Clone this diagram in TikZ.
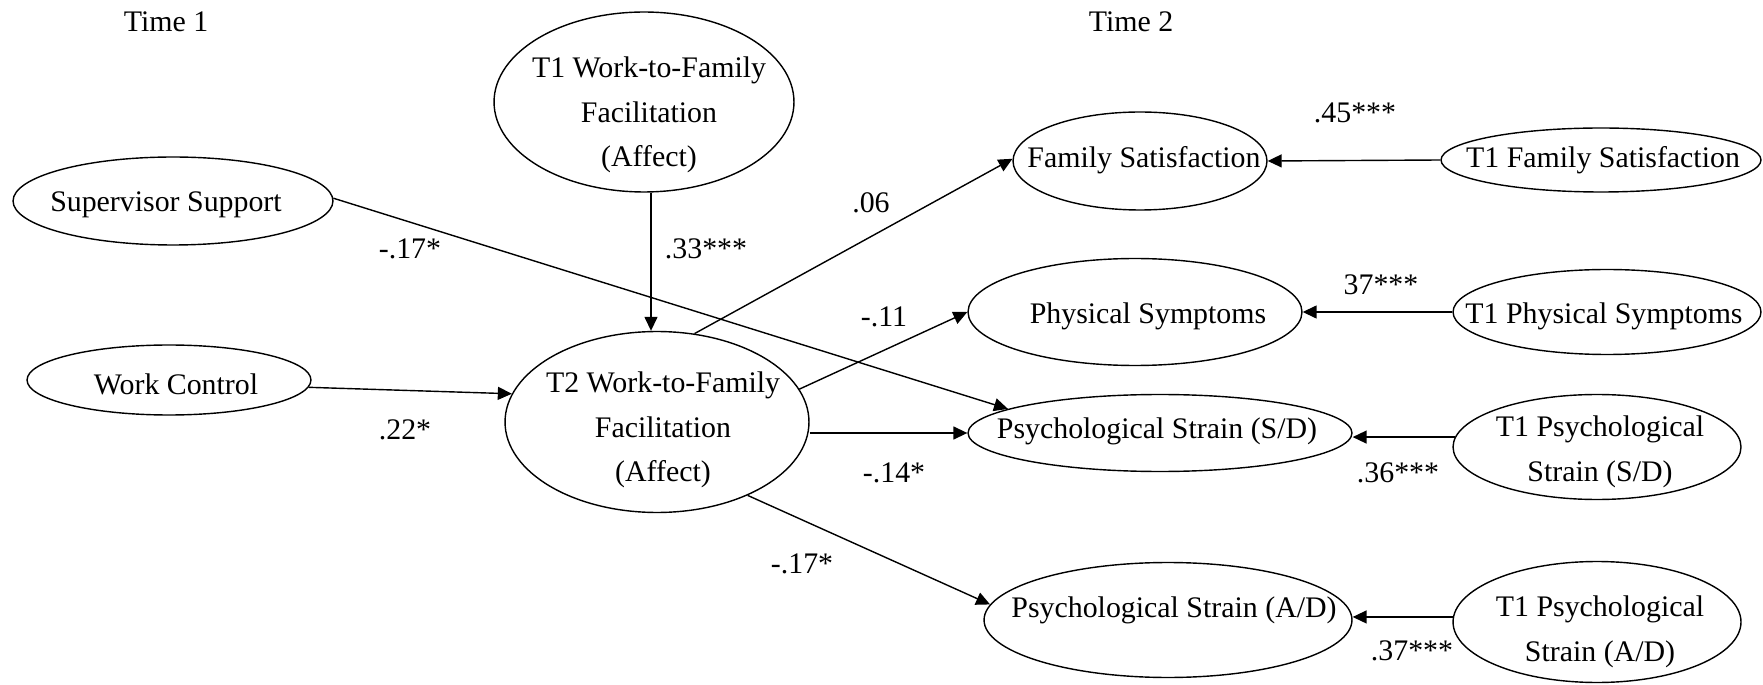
\documentclass[tikz,border=0pt]{standalone}
\usepackage{fontspec}
\setmainfont{Liberation Serif}
\usetikzlibrary{arrows.meta,shapes.geometric}

\begin{document}
\begin{tikzpicture}[
  x=0.02cm, y=-0.02cm,
  latent/.style={ellipse,draw=black,line width=0.8pt,inner sep=0pt},
  txt/.style={align=center,inner sep=0pt,font=\fontsize{17}{25.5}\selectfont},
  coef/.style={inner sep=0pt,font=\fontsize{17}{20}\selectfont},
  effect/.style={-{Triangle[length=0.28cm,width=0.26cm]},line width=0.8pt}
]

\useasboundingbox (0,0) rectangle (1763,685);

\node[txt] (time1) at (166,22) {Time 1};
\node[txt] (time2) at (1131,22) {Time 2};

\node[latent,minimum width=6cm,minimum height=3.6cm] (t1wff) at (644,102) {};
\node[latent,minimum width=6.4cm,minimum height=1.76cm] (supsup) at (173,201) {};
\node[latent,minimum width=5.68cm,minimum height=1.4cm] (workctl) at (169,380) {};
\node[latent,minimum width=6.08cm,minimum height=3.62cm] (t2wff) at (657,422) {};
\node[latent,minimum width=5.08cm,minimum height=1.96cm] (famsat) at (1140,161) {};
\node[latent,minimum width=6.4cm,minimum height=1.28cm] (t1famsat) at (1601,160) {};
\node[latent,minimum width=6.68cm,minimum height=2.14cm] (physym) at (1135,312) {};
\node[latent,minimum width=6.16cm,minimum height=1.7cm] (t1physym) at (1607,312) {};
\node[latent,minimum width=7.68cm,minimum height=1.54cm] (psysd) at (1160,433) {};
\node[latent,minimum width=5.76cm,minimum height=2.1cm] (t1psysd) at (1597,447) {};
\node[latent,minimum width=7.36cm,minimum height=2.3cm] (psyad) at (1168,620) {};
\node[latent,minimum width=5.76cm,minimum height=2.42cm] (t1psyad) at (1597,622) {};

\node[txt] (t1wff-t) at (649,115) {T1 Work-to-Family\\Facilitation\\(Affect)};
\node[txt] (supsup-t) at (166,205) {Supervisor Support};
\node[txt] (workctl-t) at (176,384) {Work Control};
\node[txt] (t2wff-t) at (663,430) {T2 Work-to-Family\\Facilitation\\(Affect)};
\node[txt] (famsat-t) at (1144,160) {Family Satisfaction};
\node[txt] (t1famsat-t) at (1603,160) {T1 Family Satisfaction};
\node[txt] (physym-t) at (1148,316) {Physical Symptoms};
\node[txt] (t1physym-t) at (1604,316) {T1 Physical Symptoms};
\node[txt] (psysd-t) at (1157,431) {Psychological Strain (S/D)};
\node[txt] (t1psysd-t) at (1600,452) {T1 Psychological\\Strain (S/D)};
\node[txt] (psyad-t) at (1174,610) {Psychological Strain (A/D)};
\node[txt] (t1psyad-t) at (1600,632) {T1 Psychological\\Strain (A/D)};

\draw[effect] ([xshift=0.14cm]t1wff.south) -- ([xshift=0.14cm]t1wff.south |- t2wff.north);
\draw[effect] (supsup.1) -- (psysd.171);
\draw[effect] (workctl.-3) -- (t2wff.169);
\draw[effect] (t2wff.67) -- (famsat.179);
\draw[effect] (t2wff.13) -- (physym.west);
\draw[effect] (t2wff.east |- psysd.west) -- (psysd.west);
\draw[effect] (t2wff.-39) -- (psyad.175);
\draw[effect] (t1famsat.west) -- (famsat.east);
\draw[effect] (t1physym.west) -- (physym.east);
\draw[effect] (t1psysd.176) -- (t1psysd.176 -| psysd.east);
\draw[effect] (t1psyad.178) -- (t1psyad.178 -| psyad.east);

\node[coef] (c-supsup) at (410,249) {-.17*};
\node[coef] (c-t1wff) at (706,249) {.33***};
\node[coef] (c-famsat) at (871,203) {.06};
\node[coef] (c-physym) at (884,317) {-.11};
\node[coef] (c-workctl) at (405,430) {.22*};
\node[coef] (c-psysd) at (894,473) {-.14*};
\node[coef] (c-psyad) at (802,564) {-.17*};
\node[coef] (c-t1famsat) at (1355,113) {.45***};
\node[coef] (c-t1physym) at (1381,285) {37***};
\node[coef] (c-t1psysd) at (1398,473) {.36***};
\node[coef] (c-t1psyad) at (1412,651) {.37***};

\end{tikzpicture}
\end{document}
